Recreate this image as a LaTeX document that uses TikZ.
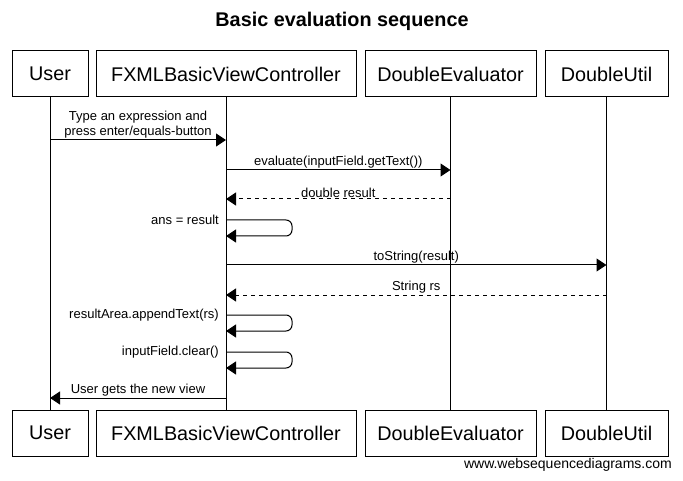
\documentclass[tikz,border=0pt]{standalone}
\usepackage{fontspec}
\setmainfont{Liberation Sans}
\usetikzlibrary{arrows.meta}
\tikzset{
  actor/.style={draw,line width=1pt,minimum height=46pt,inner sep=0pt,font=\fontsize{19.8}{22}\selectfont},
  lifeline/.style={line width=1pt},
  msg/.style={line width=1pt,-{Triangle[length=10pt,width=13pt]}},
  reply/.style={msg,dash pattern=on 4pt off 4pt},
  lbl/.style={font=\fontsize{13}{15}\selectfont,inner sep=1pt},
}

\begin{document}
\begin{tikzpicture}[x=1pt,y=-1pt]
\useasboundingbox (0,0) rectangle (683,481);
\node[font=\bfseries\fontsize{19.8}{22}\selectfont] (title) at (342,21) {Basic evaluation sequence};
% participants, top row
\node[actor,minimum width=76pt]  (user) at (50,74)    {User};
\node[actor,minimum width=260pt] (fx)   at (226,74)   {FXMLBasicViewController};
\node[actor,minimum width=171pt] (de)   at (450.5,74) {DoubleEvaluator};
\node[actor,minimum width=123pt] (du)   at (606.5,74) {DoubleUtil};
% participants, bottom row
\node[actor,minimum width=76pt]  (userB) at (50,433)    {User};
\node[actor,minimum width=260pt] (fxB)   at (226,433)   {FXMLBasicViewController};
\node[actor,minimum width=171pt] (deB)   at (450.5,433) {DoubleEvaluator};
\node[actor,minimum width=123pt] (duB)   at (606.5,433) {DoubleUtil};
% lifelines
\draw[lifeline] (user) -- (userB);
\draw[lifeline] (fx) -- (fxB);
\draw[lifeline] (de) -- (deB);
\draw[lifeline] (du) -- (duB);
% messages
\coordinate (m1) at (0,140);
\coordinate (m2) at (0,170);
\coordinate (m3) at (0,199);
\coordinate (s1) at (0,220);
\coordinate (m4) at (0,265);
\coordinate (m5) at (0,295);
\coordinate (s2) at (0,315);
\coordinate (s3) at (0,352);
\coordinate (m6) at (0,398);
\draw[msg] (user |- m1) -- (fx |- m1)
  node[lbl,midway,above,align=center] (l1) {Type an expression and\\press enter/equals-button};
\draw[msg] (fx |- m2) -- (de |- m2)
  node[lbl,midway,above] (l2) {evaluate(inputField.getText())};
\draw[reply] (de |- m3) -- (fx |- m3)
  node[lbl,midway,above] (l3) {double result};
\draw[msg,rounded corners=6pt] (fx |- s1) -- ++(66,0) -- ++(0,16) -- ++(-66,0);
\node[lbl,anchor=east,xshift=-6pt] (l4) at (fx |- s1) {ans = result};
\draw[msg] (fx |- m4) -- (du |- m4)
  node[lbl,midway,above] (l5) {toString(result)};
\draw[reply] (du |- m5) -- (fx |- m5)
  node[lbl,midway,above] (l6) {String rs};
\draw[msg,rounded corners=6pt] (fx |- s2) -- ++(66,0) -- ++(0,16) -- ++(-66,0);
\node[lbl,anchor=east,xshift=-6pt] (l7) at (fx |- s2) {resultArea.appendText(rs)};
\draw[msg,rounded corners=6pt] (fx |- s3) -- ++(66,0) -- ++(0,16) -- ++(-66,0);
\node[lbl,anchor=east,xshift=-6pt] (l8) at (fx |- s3) {inputField.clear()};
\draw[msg] (fx |- m6) -- (user |- m6)
  node[lbl,midway,above] (l9) {User gets the new view};
\node[font=\fontsize{14}{16}\selectfont,inner sep=1pt,anchor=east] (footer) at (673,465) {www.websequencediagrams.com};
\end{tikzpicture}
\end{document}
